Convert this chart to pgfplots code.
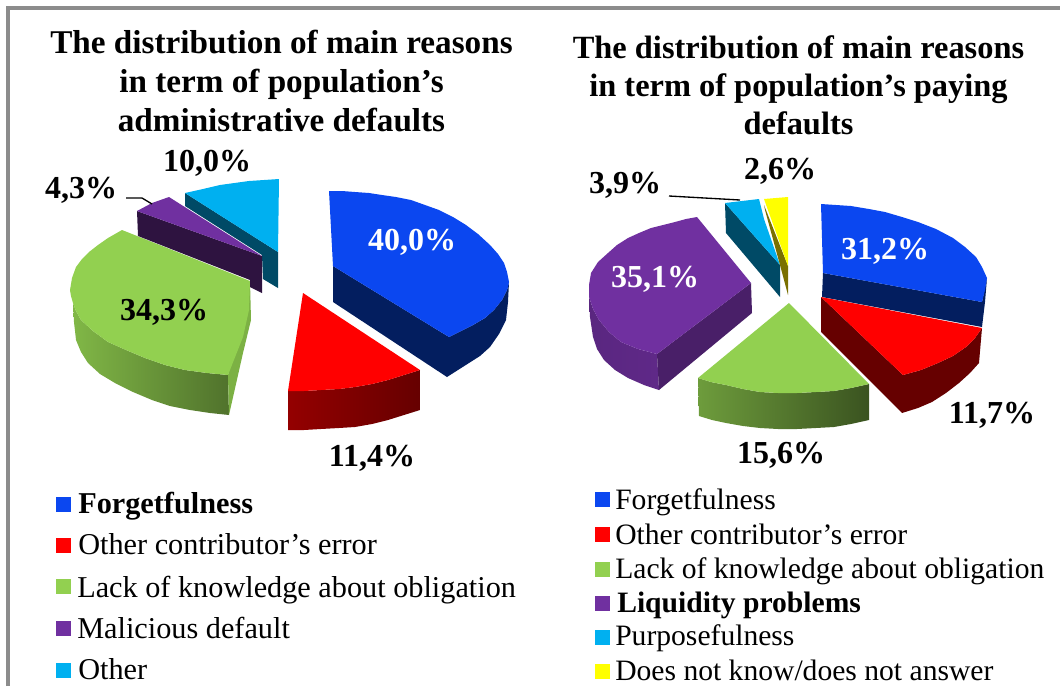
\documentclass[border=0pt]{standalone}
\usepackage{pgfplots}
\pgfplotsset{compat=1.18}
\usepackage{fontspec}
\setmainfont{Liberation Serif}
\definecolor{cblue}{HTML}{0B47F0}
\definecolor{dblue}{HTML}{031E5F}
\definecolor{cred}{HTML}{FF0000}
\definecolor{cgreen}{HTML}{92D050}
\definecolor{cpurple}{HTML}{7030A0}
\definecolor{dpurple}{HTML}{2E1340}
\definecolor{ccyan}{HTML}{00B0F0}
\definecolor{dcyan}{HTML}{004A66}
\definecolor{cyellow}{HTML}{FFFF00}
\definecolor{dyellow}{HTML}{7A7000}
\definecolor{frame}{HTML}{8C8C8C}
\newcommand{\pct}[4][black]{\node[text=#1,font=\fontsize{24}{24}\selectfont\bfseries] at (axis cs:#2,#3) {#4};}
\newcommand{\leg}[3]{\node[anchor=base west,inner sep=0pt,font=\fontsize{22.7}{24}\selectfont] at (axis cs:#1,#2) {#3};}
\newcommand{\legr}[3]{\node[anchor=base west,inner sep=0pt,font=\fontsize{22.2}{24}\selectfont] at (axis cs:#1,#2) {#3};}
\begin{document}
\begin{tikzpicture}
\begin{axis}[
    width=795pt, height=514.5pt, scale only axis,
    xmin=0, xmax=1060, ymin=0, ymax=686,
    y dir=reverse,
    axis line style={draw=none},
    ticks=none,
  ]
  % frame
  \addplot[frame, line width=2.6pt] coordinates {(8,686) (8,8) (1060,8)};

  % left pie
  \addplot[draw=none, fill=dblue] coordinates {(333,266) (449,337) (461,331) (473,325) (485,318) (494,310) (502,300) (507,290) (509,282) (508,302) (506,320) (499,334) (490,347) (480,356) (469,363) (458,370) (447,377) (333,302)} --cycle;
  \addplot[draw=none, fill=cblue] coordinates {(329,191) (342,191) (355,192) (369,193) (382,195) (396,197) (411,200) (425,205) (439,210) (453,217) (466,225) (478,234) (490,245) (498,254) (504,263) (507,272) (509,282) (508,287) (507,290) (502,300) (494,310) (485,318) (473,325) (461,331) (449,337) (333,266)} --cycle;
  \addplot[draw=none, left color=red!58!black, right color=red!40!black] coordinates {(288,391) (304,391) (321,390) (339,389) (355,387) (372,384) (388,380) (404,375) (420,370) (420,410) (404,415) (388,420) (372,424) (355,427) (339,428) (321,429) (304,430) (288,430)} --cycle;
  \addplot[draw=none, fill=cred] coordinates {(303,293) (420,370) (404,375) (388,380) (372,384) (355,387) (339,389) (321,390) (304,391) (288,391)} --cycle;
  \addplot[draw=none, left color=cgreen!88!black, right color=cgreen!55!black] coordinates {(73,303) (76,311) (81,320) (93,331) (108,342) (126,350) (145,358) (165,365) (185,370) (207,373) (228,375) (229,415) (210,413) (190,410) (170,406) (152,400) (133,392) (115,383) (100,374) (88,363) (81,352) (76,340) (74,322)} --cycle;
  \addplot[draw=none, fill=cgreen!85!black] coordinates {(250,281) (228,375) (229,415) (243,353) (251,320)} --cycle;
  \addplot[draw=none, fill=cgreen] coordinates {(122,230) (250,281) (249,310) (243,337) (228,375) (207,373) (185,370) (165,365) (145,358) (126,350) (108,342) (93,331) (81,320) (76,311) (73,303) (71,296) (70,290) (72,278) (76,267) (82,259) (89,252) (98,245) (108,238) (115,234)} --cycle;
  \addplot[draw=none, fill=dcyan] coordinates {(185,193) (278,252) (278,288) (263,279) (262,255) (185,206)} --cycle;
  \addplot[draw=none, fill=ccyan] coordinates {(185,193) (203,189) (220,185) (249,181) (279,179) (278,252)} --cycle;
  \addplot[draw=none, fill=dpurple] coordinates {(137,211) (262,256) (262,293) (250,287) (250,280) (138,236)} --cycle;
  \addplot[draw=none, fill=cpurple] coordinates {(137,211) (152,203) (169,197) (262,256)} --cycle;
  \addplot[black, line width=1pt] coordinates {(126,198) (142,198) (152,204)};

  % right pie
  \addplot[draw=none, fill=dblue] coordinates {(823,273) (982,302) (987,278) (985,302) (982,327) (822,297)} --cycle;
  \addplot[draw=none, fill=cblue] coordinates {(821,204) (836,205) (851,206) (869,209) (885,212) (902,217) (918,222) (936,229) (953,238) (965,247) (976,257) (982,267) (987,278) (985,290) (982,302) (823,273)} --cycle;
  \addplot[draw=none, fill=red!40!black] coordinates {(821,297) (903,375) (921,370) (938,363) (953,356) (966,347) (975,338) (982,328) (979,363) (970,373) (959,383) (946,393) (932,402) (918,408) (902,413) (821,332)} --cycle;
  \addplot[draw=none, fill=cred] coordinates {(821,297) (982,328) (975,338) (966,347) (953,356) (938,363) (921,370) (903,375)} --cycle;
  \addplot[draw=none, left color=cgreen!75!black, right color=cgreen!40!black] coordinates {(698,378) (711,382) (726,385) (743,389) (760,392) (778,393) (797,393) (816,392) (834,391) (851,388) (869,384) (869,420) (851,424) (834,427) (816,428) (797,429) (778,429) (760,428) (743,426) (726,423) (712,420) (699,416)} --cycle;
  \addplot[draw=none, fill=cgreen] coordinates {(789,303) (869,384) (851,388) (834,391) (816,392) (797,393) (778,393) (760,392) (743,389) (726,385) (711,382) (698,378)} --cycle;
  \addplot[draw=none, left color=cpurple!80!black, right color=cpurple!85!black] coordinates {(589,297) (593,309) (599,320) (609,332) (621,342) (638,349) (657,354) (659,390) (644,385) (628,378) (615,370) (604,360) (597,349) (593,337) (590,317)} --cycle;
  \addplot[draw=none, fill=cpurple!65!black] coordinates {(657,354) (751,283) (752,313) (659,390)} --cycle;
  \addplot[draw=none, fill=cpurple] coordinates {(697,217) (751,283) (657,354) (638,349) (621,342) (609,332) (599,320) (593,309) (589,297) (589,285) (591,273) (598,262) (608,253) (617,245) (628,238) (639,233) (651,228) (663,225) (675,222) (686,219)} --cycle;
  \addplot[draw=none, fill=dcyan] coordinates {(725,203) (780,265) (780,297) (726,233)} --cycle;
  \addplot[draw=none, fill=ccyan] coordinates {(725,203) (759,199) (764,219) (780,265)} --cycle;
  \addplot[draw=none, fill=dyellow] coordinates {(764,205) (788,266) (788,295) (780,265) (765,210)} --cycle;
  \addplot[draw=none, fill=cyellow] coordinates {(764,199) (788,197) (788,266)} --cycle;
  \addplot[black, line width=1pt] coordinates {(669,196) (740,200)};

  % legend squares
  \addplot[only marks, mark=square*, mark size=5.2pt, color=cblue] coordinates {(63,504) (602,499)};
  \addplot[only marks, mark=square*, mark size=5.2pt, color=cred] coordinates {(63,545) (602,534)};
  \addplot[only marks, mark=square*, mark size=5.2pt, color=cgreen] coordinates {(63,586) (602,569)};
  \addplot[only marks, mark=square*, mark size=5.2pt, color=cpurple] coordinates {(63,628) (602,603)};
  \addplot[only marks, mark=square*, mark size=5.2pt, color=ccyan] coordinates {(63,670) (602,637)};
  \addplot[only marks, mark=square*, mark size=5.2pt, color=cyellow] coordinates {(602,671)};

  % titles
  \node[align=center,font=\fontsize{24.9}{29}\selectfont\bfseries] at (axis cs:281.5,81) {The distribution of main reasons\\in term of population’s\\administrative defaults};
  \node[align=center,font=\fontsize{24.3}{28.5}\selectfont\bfseries] at (axis cs:798.5,85) {The distribution of main reasons\\in term of population’s paying\\defaults};

  % value labels
  \pct{207}{163}{10,0\%}
  \pct{81}{190}{4,3\%}
  \pct[white]{412}{242}{40,0\%}
  \pct{164}{312}{34,3\%}
  \pct{372}{458}{11,4\%}
  \pct{780}{171}{2,6\%}
  \pct{625}{185}{3,9\%}
  \pct[white]{885}{251}{31,2\%}
  \pct[white]{655}{279}{35,1\%}
  \pct{992}{415}{11,7\%}
  \pct{781}{455}{15,6\%}

  % legend text
  \leg{78}{513}{\textbf{Forgetfulness}}
  \leg{78}{554}{Other contributor’s error}
  \leg{77}{597}{Lack of knowledge about obligation}
  \leg{77}{638}{Malicious default}
  \leg{78}{679}{Other}
  \legr{615}{509}{Forgetfulness}
  \legr{615}{544}{Other contributor’s error}
  \legr{615}{578}{Lack of knowledge about obligation}
  \legr{617}{612}{\textbf{Liquidity problems}}
  \legr{615}{645}{Purposefulness}
  \legr{615}{680}{Does not know/does not answer}
\end{axis}
\end{tikzpicture}
\end{document}
